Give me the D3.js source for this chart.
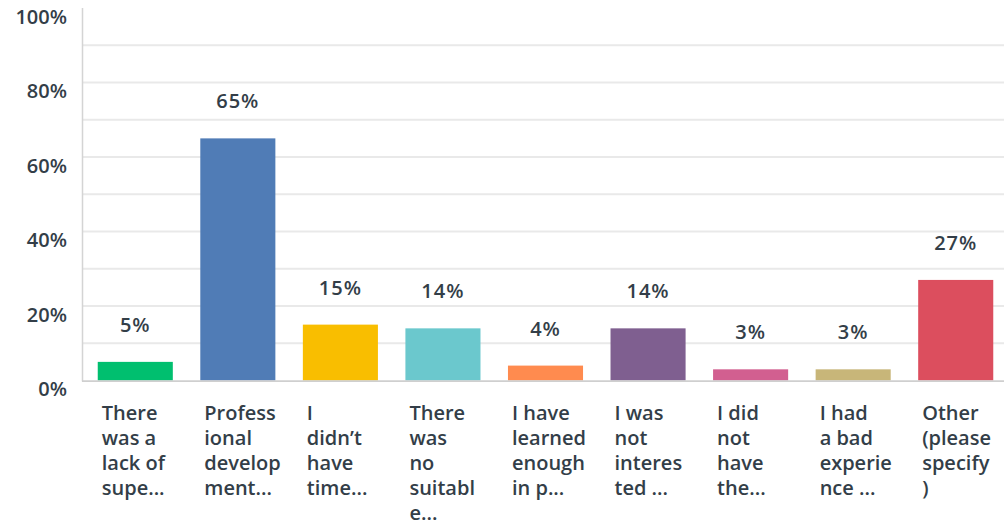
<!DOCTYPE html>
<html>
<head>
<meta charset="utf-8">
<script src="https://cdn.jsdelivr.net/npm/d3@7"></script>
<style>
  html, body { margin: 0; padding: 0; background: #ffffff; }
  svg { display: block; }
</style>
</head>
<body>
<svg id="chart" width="1004" height="527"></svg>
<script>
// Survey responses: share of respondents choosing each reason
const categories = [
  "There was a lack of supe...",
  "Professional development...",
  "I didn’t have time...",
  "There was no suitable...",
  "I have learned enough in p...",
  "I was not interested ...",
  "I did not have the...",
  "I had a bad experience ...",
  "Other (please specify)"
];
// Wrapped lines as shown under each bar
const categoryLines = [
  ["There", "was a", "lack of", "supe..."],
  ["Profess", "ional", "develop", "ment..."],
  ["I", "didn’t", "have", "time..."],
  ["There", "was", "no", "suitabl", "e..."],
  ["I have", "learned", "enough", "in p..."],
  ["I was", "not", "interes", "ted ..."],
  ["I did", "not", "have", "the..."],
  ["I had", "a bad", "experie", "nce ..."],
  ["Other", "(please", "specify", ")"]
];
const values = [5, 65, 15, 14, 4, 14, 3, 3, 27];
const valueLabels = ["5%", "65%", "15%", "14%", "4%", "14%", "3%", "3%", "27%"];
const colors = ["#00bf6f", "#507cb6", "#f9be00", "#6bc8cd", "#ff8b4f", "#7f5f90", "#d25f90", "#c8b679", "#dc4e5e"];
const yTicks = [0, 20, 40, 60, 80, 100];
const yTickLabels = ["0%", "20%", "40%", "60%", "80%", "100%"];
const gridValues = [10, 20, 30, 40, 50, 60, 70, 80, 90];

const svg = d3.select("#chart");
const textColor = "#333e48";
const fontFamily = "'Open Sans', 'Noto Sans', sans-serif";

const x = d3.scaleBand()
  .domain(categories)
  .range([84, 1007])
  .paddingInner(0.268)
  .paddingOuter(0.134);

const y = d3.scaleLinear()
  .domain([0, 100])
  .range([380.5, 8]);

// Horizontal gridlines
svg.append("g")
  .selectAll("line")
  .data(gridValues)
  .join("line")
  .attr("x1", 83)
  .attr("x2", 1004)
  .attr("y1", d => y(d))
  .attr("y2", d => y(d))
  .attr("stroke", "#e9e9e9")
  .attr("stroke-width", 1.8);

// Bars
svg.append("g")
  .selectAll("rect")
  .data(values)
  .join("rect")
  .attr("x", (d, i) => x(categories[i]))
  .attr("width", x.bandwidth())
  .attr("y", d => y(d))
  .attr("height", d => y(0) - y(d))
  .attr("fill", (d, i) => colors[i]);

// Axis lines
svg.append("line")
  .attr("x1", 82.5).attr("x2", 82.5)
  .attr("y1", 8).attr("y2", 381.5)
  .attr("stroke", "#d4d4d4").attr("stroke-width", 1.5);
svg.append("line")
  .attr("x1", 82).attr("x2", 1004)
  .attr("y1", 381.2).attr("y2", 381.2)
  .attr("stroke", "#cfcfcf").attr("stroke-width", 1.8);

// Y tick labels
svg.append("g")
  .selectAll("text")
  .data(yTicks)
  .join("text")
  .attr("x", 67)
  .attr("y", d => y(d) + 15.5)
  .attr("text-anchor", "end")
  .attr("font-family", fontFamily)
  .attr("font-weight", 600)
  .attr("font-size", 20)
  .attr("fill", textColor)
  .text((d, i) => yTickLabels[i]);

// Value labels above bars
svg.append("g")
  .selectAll("text")
  .data(values)
  .join("text")
  .attr("x", (d, i) => x(categories[i]) + x.bandwidth() / 2)
  .attr("y", d => y(d) - 30)
  .attr("text-anchor", "middle")
  .attr("font-family", fontFamily)
  .attr("font-weight", 600)
  .attr("font-size", 20)
  .attr("letter-spacing", 1)
  .attr("fill", textColor)
  .text((d, i) => valueLabels[i]);

// Category labels under bars
const catG = svg.append("g");
categoryLines.forEach((lines, i) => {
  const t = catG.append("text")
    .attr("x", x(categories[i]) + 4)
    .attr("y", 420)
    .attr("font-family", fontFamily)
    .attr("font-weight", 600)
    .attr("font-size", 20)
    .attr("fill", textColor);
  lines.forEach((ln, j) => {
    t.append("tspan")
      .attr("x", x(categories[i]) + 4)
      .attr("y", 420 + j * 25)
      .text(ln);
  });
});
</script>
</body>
</html>
